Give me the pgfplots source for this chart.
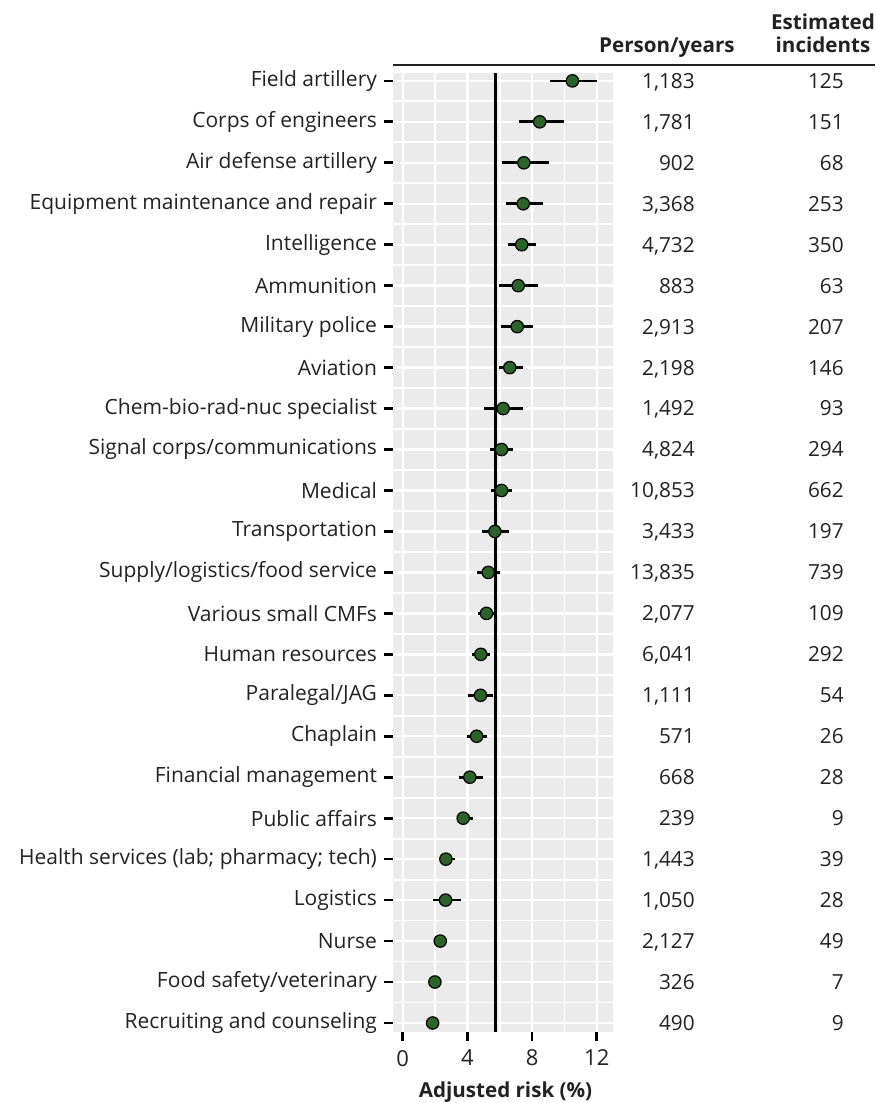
\documentclass[border=0pt]{standalone}
\usepackage{fontspec}
\setmainfont{Open Sans}
\usepackage{pgfplots}
\usepackage{pgfplotstable}
\pgfplotsset{compat=1.18}
\definecolor{pan}{HTML}{EBEBEB}
\definecolor{ptc}{HTML}{2C632A}
\definecolor{txt}{HTML}{222222}

\pgfplotstableread{
row est ep em py inc
24 10.49 1.51 1.39 1,183 125
23 8.47 1.49 1.27 1,781 151
22 7.49 1.54 1.38 902 68
21 7.45 1.23 1.09 3,368 253
20 7.36 0.91 0.88 4,732 350
19 7.14 1.21 1.17 883 63
18 7.08 0.98 1.03 2,913 207
17 6.62 0.83 0.68 2,198 146
16 6.21 1.24 1.17 1,492 93
15 6.11 0.68 0.72 4,824 294
14 6.11 0.64 0.68 10,853 662
13 5.70 0.84 0.82 3,433 197
12 5.29 0.71 0.72 13,835 739
11 5.18 0.48 0.55 2,077 109
10 4.83 0.56 0.55 6,041 292
9 4.81 0.79 0.76 1,111 54
8 4.57 0.61 0.62 571 26
7 4.15 0.83 0.65 668 28
6 3.74 0.58 0.41 239 9
5 2.67 0.54 0.41 1,443 39
4 2.65 0.95 0.76 1,050 28
3 2.32 0.23 0.22 2,127 49
2 1.99 0.16 0.14 326 7
1 1.85 0.15 0.15 490 9
}\risk

\begin{document}
\begin{tikzpicture}
\begin{axis}[
  at={(196.5pt,35.5pt)}, anchor=south west,
  scale only axis, width=110pt, height=479.65pt,
  xmin=-0.6, xmax=13, ymin=0.78, ymax=24.2,
  clip=false,
  axis background/.style={fill=pan},
  axis line style={draw=none},
  xtick pos=left, ytick pos=left,
  xtick={0,4,8,12}, minor xtick={2,6,10},
  ytick={1,...,24}, minor ytick={1.5,2.5,...,23.5},
  yticklabels={Recruiting and counseling, Food safety/veterinary, Nurse, Logistics,
    Health services (lab; pharmacy; tech), Public affairs, Financial management,
    Chaplain, Paralegal/JAG, Human resources, Various small CMFs,
    Supply/logistics/food service, Transportation, Medical,
    Signal corps/communications, Chem-bio-rad-nuc specialist, Aviation,
    Military police, Ammunition, Intelligence, Equipment maintenance and repair,
    Air defense artillery, Corps of engineers, Field artillery},
  grid=both,
  major grid style={white, line width=1.2pt},
  minor grid style={white, line width=0.9pt},
  tick align=outside,
  major tick length=4.5pt, minor tick length=0pt,
  tick style={black, line width=1.35pt},
  /pgf/number format/assume math mode=true,
  yticklabel style={font=\fontsize{10.5}{12}\selectfont, text=txt},
  xticklabel style={font=\fontsize{11}{13}\selectfont, text=txt, yshift=-1pt},
]
\addplot[black, line width=1.5pt, forget plot] coordinates {(5.76,0.78) (5.76,24.2)};
\addplot[only marks, mark=*, mark size=3.1pt,
  mark options={fill=ptc, draw=black, line width=0.6pt},
  error bars/.cd, x dir=both, x explicit, error mark=none,
  error bar style={black, line width=1.35pt}]
  table[x=est, y=row, x error plus=ep, x error minus=em]{\risk};
\addplot[only marks, mark=none, nodes near coords, point meta=explicit symbolic,
  nodes near coords style={anchor=base east, inner sep=0pt, yshift=-3.7pt,
    font=\fontsize{10.4}{12}\selectfont, text=txt}]
  table[x expr=18.08, y=row, meta=py]{\risk};
\addplot[only marks, mark=none, nodes near coords, point meta=explicit symbolic,
  nodes near coords style={anchor=base east, inner sep=0pt, yshift=-3.7pt,
    font=\fontsize{10.4}{12}\selectfont, text=txt}]
  table[x expr=27.29, y=row, meta=inc]{\risk};
\end{axis}
\draw[line width=1pt, txt] (196.5pt,519pt) -- (437.5pt,519pt);
\node[anchor=base east, inner sep=0pt, font=\fontsize{10.3}{12}\selectfont\bfseries, text=txt] at (367.5pt,525pt) {Person/years};
\node[anchor=base, inner sep=0pt, font=\fontsize{10.3}{12}\selectfont\bfseries, text=txt] at (411.5pt,536.5pt) {Estimated};
\node[anchor=base, inner sep=0pt, font=\fontsize{10.3}{12}\selectfont\bfseries, text=txt] at (411.5pt,525pt) {incidents};
\node[anchor=base, inner sep=0pt, font=\fontsize{10.3}{12}\selectfont\bfseries, text=txt] at (252.75pt,2.85pt) {Adjusted risk (\%)};
\pgfresetboundingbox
\useasboundingbox (0,0) rectangle (437.5pt,551.5pt);
\end{tikzpicture}
\end{document}
